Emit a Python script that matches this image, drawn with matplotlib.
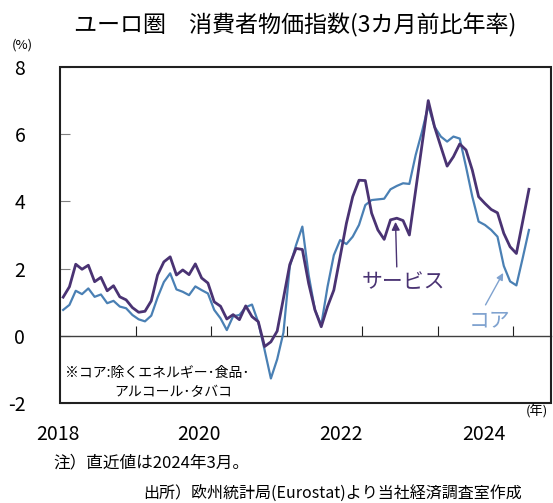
import matplotlib
matplotlib.use('Agg')
import matplotlib.pyplot as plt
from matplotlib.patches import Rectangle
import matplotlib.transforms as mtransforms

plt.rcParams['font.family'] = ['Noto Sans CJK JP', 'DejaVu Sans']

# monthly, Jan 2018 - Mar 2024 (3-month annualised % change)
services = [1.15, 1.46, 2.13, 1.98, 2.10, 1.61, 1.74, 1.34, 1.49, 1.16, 1.07, 0.84,
            0.70, 0.73, 1.04, 1.81, 2.20, 2.35, 1.81, 1.96, 1.82, 2.14, 1.72, 1.57,
            1.01, 0.88, 0.50, 0.63, 0.48, 0.89, 0.57, 0.42, -0.32, -0.18, 0.14, 1.12,
            2.12, 2.60, 2.57, 1.56, 0.77, 0.27, 0.87, 1.36, 2.35, 3.35, 4.14, 4.63,
            4.62, 3.65, 3.15, 2.87, 3.45, 3.50, 3.43, 3.00, 4.33, 5.67, 7.00, 6.22,
            5.63, 5.05, 5.33, 5.71, 5.53, 4.93, 4.14, 3.94, 3.76, 3.66, 3.05, 2.65,
            2.45, 3.40, 4.36]
core = [0.77, 0.92, 1.34, 1.24, 1.41, 1.16, 1.23, 0.97, 1.04, 0.87, 0.82, 0.62,
        0.49, 0.43, 0.60, 1.14, 1.60, 1.86, 1.38, 1.31, 1.21, 1.47, 1.36, 1.26,
        0.77, 0.52, 0.17, 0.58, 0.62, 0.85, 0.93, 0.40, -0.42, -1.27, -0.70, 0.10,
        2.06, 2.70, 3.25, 1.81, 0.77, 0.32, 1.46, 2.40, 2.85, 2.73, 2.95, 3.30,
        3.89, 4.04, 4.06, 4.08, 4.36, 4.46, 4.54, 4.52, 5.38, 6.07, 6.85, 6.22,
        5.93, 5.78, 5.93, 5.87, 5.03, 4.14, 3.40, 3.30, 3.15, 2.95, 2.08, 1.62,
        1.50, 2.31, 3.15]
year_labels = ['2018', '2020', '2022', '2024']
yticks = [8, 6, 4, 2, 0, -2]

SERV_C = '#4a3373'
CORE_C = '#4a80b4'
CORE_LBL = '#7fa2cf'

W, H = 553, 503
fig = plt.figure(figsize=(W / 100, H / 100), dpi=100)
ax = fig.add_axes([60 / W, (H - 403) / H, (551 - 60) / W, (403 - 67) / H])

x = [i + 0.5 for i in range(len(services))]
ax.plot(x, core, color=CORE_C, lw=1.6, zorder=3)
ax.plot(x, services, color=SERV_C, lw=2.0, zorder=4)

ax.set_xlim(0, 78)
ax.set_ylim(-2, 8)

# zero line acts as x axis, ticks at each January pointing up
for s in ['top', 'right', 'left']:
    ax.spines[s].set_visible(False)
ax.spines['bottom'].set_position(('data', 0))
ax.spines['bottom'].set_color('#404040')
ax.spines['bottom'].set_linewidth(1.0)
ax.set_xticks(range(12, 78, 12))
ax.tick_params(axis='x', direction='in', length=7, color='#202020', labelbottom=False)
ax.add_patch(Rectangle((0, 0), 1, 1, transform=ax.transAxes, fill=False,
                       lw=1.5, ec='#202020', clip_on=False, zorder=5))

ax.set_yticks(yticks)
ax.set_yticklabels([str(v) for v in yticks], fontsize=14)
ax.tick_params(axis='y', direction='in', length=7, color='#808080', pad=25)

trans = mtransforms.blended_transform_factory(ax.transData, fig.transFigure)
for lx, lab in zip([-0.35, 22.1, 44.6, 67.4], year_labels):
    ax.text(lx, (H - 434) / H, lab, transform=trans, ha='center', va='center',
            fontsize=14, clip_on=False)

fig.text(74 / W, 1 - 25 / H, 'ユーロ圏　消費者物価指数(3カ月前比年率)', fontsize=16.6,
         ha='left', va='center')
fig.text(22 / W, 1 - 45 / H, '(%)', fontsize=9.5, ha='center', va='center')
fig.text(537 / W, 1 - 412 / H, '(年)', fontsize=9.5, ha='center', va='center')

fig.text(65 / W, 1 - 373 / H, '※コア:除くエネルギー･食品･', fontsize=10,
         ha='left', va='center')
fig.text(173 / W, 1 - 392 / H, 'アルコール･タバコ', fontsize=10,
         ha='center', va='center')

# series labels with arrows
ax.text(54.6, 1.60, 'サービス', color=SERV_C, fontsize=15, ha='center', va='center')
ax.annotate('', xy=(53.3, 3.39), xytext=(53.5, 2.05),
            arrowprops=dict(arrowstyle='-|>', color=SERV_C, lw=1.0,
                            mutation_scale=12, shrinkA=0, shrinkB=0))
ax.text(68.2, 0.47, 'コア', color=CORE_LBL, fontsize=15, ha='center', va='center')
ax.annotate('', xy=(70.4, 1.87), xytext=(67.6, 0.92),
            arrowprops=dict(arrowstyle='-|>', color=CORE_LBL, lw=1.0,
                            mutation_scale=10, shrinkA=0, shrinkB=0))

fig.text(53 / W, 1 - 463 / H, '注）直近値は2024年3月。', fontsize=12,
         ha='left', va='center')
fig.text(143 / W, 1 - 493 / H, '出所）欧州統計局(Eurostat)より当社経済調査室作成',
         fontsize=11.5, ha='left', va='center')

fig.savefig('out.png', dpi=100)
